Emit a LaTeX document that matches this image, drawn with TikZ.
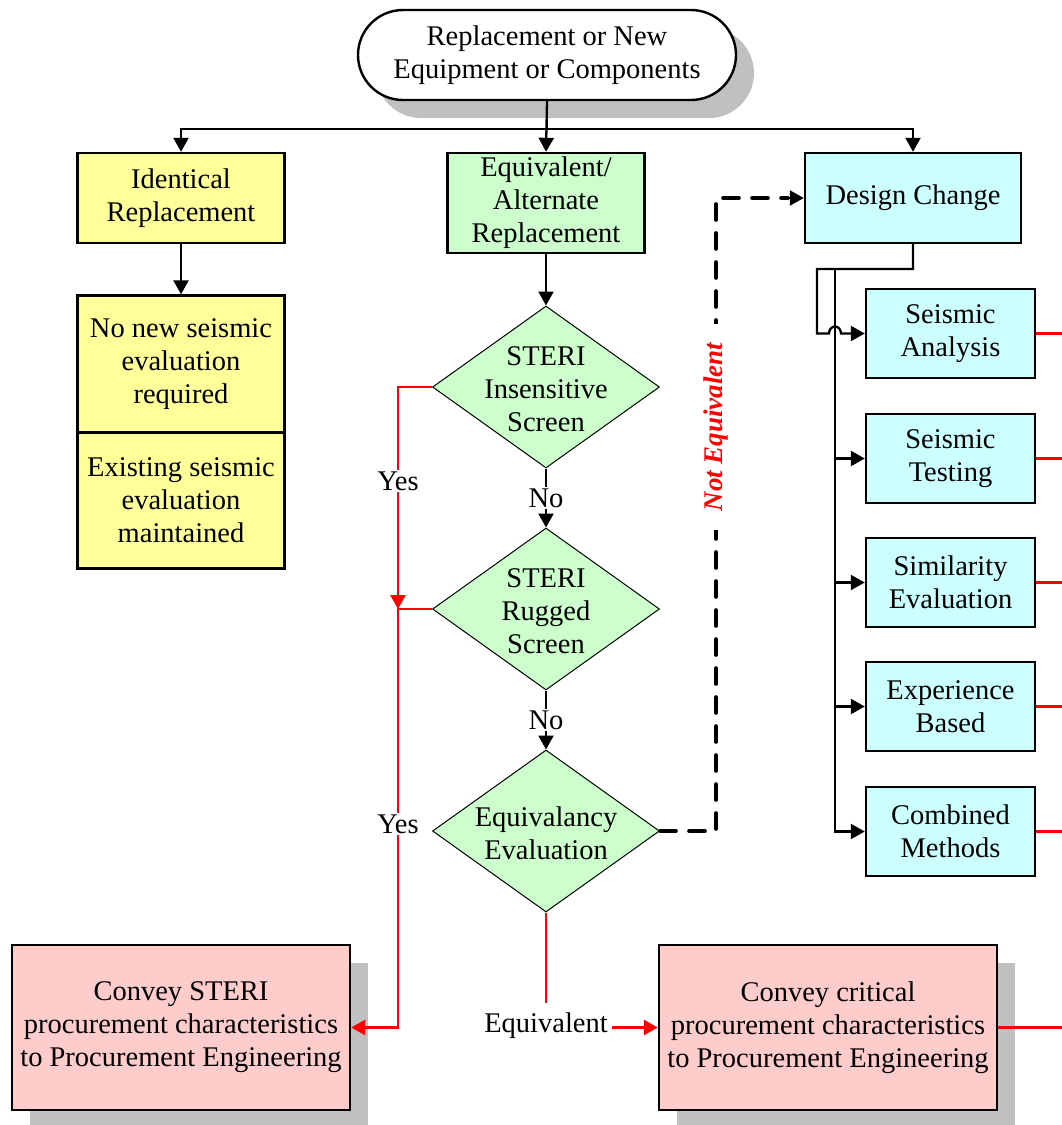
\documentclass[tikz,border=0pt]{standalone}
\usepackage{fontspec}
\setmainfont{Liberation Serif}
\usetikzlibrary{arrows.meta,shapes.geometric,shadows}

\definecolor{boxyellow}{RGB}{255,255,153}
\definecolor{boxgreen}{RGB}{204,255,204}
\definecolor{boxcyan}{RGB}{204,255,255}
\definecolor{boxpink}{RGB}{255,204,204}
\definecolor{shadowgray}{RGB}{192,192,192}
\definecolor{flowred}{RGB}{255,0,0}

\begin{document}
\begin{tikzpicture}[x=1pt,y=-1pt,
  every node/.style={font=\fontsize{28.5}{33}\selectfont, align=center},
  box/.style={draw, line width=2.4pt, inner sep=0pt},
  ybox/.style={box, fill=boxyellow, minimum width=207pt},
  gbox/.style={box, fill=boxgreen, minimum width=197pt, minimum height=100pt},
  cbox/.style={box, fill=boxcyan, minimum width=169pt, minimum height=89pt},
  pbox/.style={box, fill=boxpink, minimum width=338pt, minimum height=165pt,
    drop shadow={shadow xshift=18pt, shadow yshift=-18pt, fill=shadowgray, opacity=1}},
  dia/.style={diamond, draw, line width=1pt, fill=boxgreen, inner sep=0pt,
    minimum width=227pt, minimum height=162pt},
  tip/.style={-{Triangle[length=14pt,width=15pt]}},
  conn/.style={line width=2.3pt, black},
  rconn/.style={line width=2.8pt, flowred},
  dconn/.style={line width=3.6pt, black, line cap=round, dash pattern=on 16pt off 13pt},
  gap/.style={fill=white, inner sep=2pt}
]
\useasboundingbox (0,0) rectangle (1062,1125);

% start terminal
\node[box, fill=white, rounded corners=45pt, minimum width=378pt, minimum height=90pt,
  drop shadow={shadow xshift=18pt, shadow yshift=-18pt, fill=shadowgray, opacity=1}]
  (start) at (547,55) {Replacement or New\\Equipment or Components};

% three branches
\node[ybox, minimum height=90pt] (id) at (181,198) {Identical\\Replacement};
\node[gbox] (eq) at (546,203) {Equivalent/\\Alternate\\Replacement};
\node[box, fill=boxcyan, minimum width=216pt, minimum height=90pt] (dc) at (913,198) {Design Change};

\draw[conn, tip] (start.south) -- (eq.north);
\draw[conn, tip] (start.south) -- ++(0,28) -| (id.north);
\draw[conn, tip] (start.south) -- ++(0,28) -| (dc.north);

% identical replacement result
\node[ybox, minimum height=137pt] (nb) at (181,364) {No new seismic\\evaluation\\required};
\node[ybox, minimum height=136pt] (ex) at (181,500.5) {Existing seismic\\evaluation\\maintained};
\draw[conn, tip] (id.south) -- (nb.north);

% screening diamonds
\node[dia] (d1) at (546,387) {};
\node at ([yshift=-2pt]d1) {STERI\\Insensitive\\Screen};
\node[dia] (d2) at (546,609) {};
\node at ([yshift=-2pt]d2) {STERI\\Rugged\\Screen};
\node[dia] (d3) at (546,831) {};
\node at ([yshift=-2pt]d3) {Equivalancy\\Evaluation};

\draw[conn, tip] (eq.south) -- (d1.north);
\draw[conn, tip] (d1.south) -- (d2.north) node[midway, gap] {No};
\draw[conn, tip] (d2.south) -- (d3.north) node[midway, gap] {No};

% procurement boxes
\node[pbox] (cs) at (181,1027.5) {Convey STERI\\procurement characteristics\\to Procurement Engineering};
\node[pbox] (cc) at (828,1027.5) {Convey critical\\procurement characteristics\\to Procurement Engineering};

% "Yes" paths
\coordinate (yj) at (398,609);
\draw[rconn, tip] (d1.west) -| (yj);
\node[gap] at (398,481) {Yes};
\draw[rconn, tip] (d2.west) -| (398,800) |- (cs.east);
\node[gap] at (398,824) {Yes};

% "Equivalent" path
\draw[rconn, tip] (d3.south) |- (cc.west);
\node[fill=white, inner xsep=4pt, inner ysep=10pt] at (546,1026) {Equivalent};

% "Not Equivalent" path
\draw[dconn] (d3.east) -| (716,500) |- ([xshift=-16pt]dc.west);
\draw[conn, tip] ([xshift=-16pt]dc.west) -- (dc.west);
\node[fill=white, rotate=90, inner xsep=19pt, inner ysep=4pt, text=flowred,
  font=\fontsize{27}{30}\selectfont\bfseries\itshape] at (716,427) {Not Equivalent};

% design change methods
\node[cbox] (sa) at (950.5,333.5) {Seismic\\Analysis};
\node[cbox] (sb) at (950.5,458.5) {Seismic\\Testing};
\node[cbox] (se) at (950.5,582.5) {Similarity\\Evaluation};
\node[cbox] (xb) at (950.5,706.5) {Experience\\Based};
\node[cbox] (cm) at (950.5,831.5) {Combined\\Methods};

\coordinate (bus) at (835,269);
\draw[conn, tip] (dc.south) |- (817,269) |- (829,333.5)
  arc[start angle=180, end angle=0, x radius=6pt, y radius=7pt] -- (sa.west);
\draw[conn, tip] (bus) |- (cm.west);
\draw[conn, tip] (bus |- sb.west) -- (sb.west);
\draw[conn, tip] (bus |- se.west) -- (se.west);
\draw[conn, tip] (bus |- xb.west) -- (xb.west);

% continuations off the right edge
\coordinate (ra) at (1062,333.5);
\coordinate (rb) at (1062,458.5);
\coordinate (re) at (1062,582.5);
\coordinate (rx) at (1062,706.5);
\coordinate (rm) at (1062,831.5);
\coordinate (rc) at (1062,1027.5);
\draw[rconn] (sa.east) -- (ra);
\draw[rconn] (sb.east) -- (rb);
\draw[rconn] (se.east) -- (re);
\draw[rconn] (xb.east) -- (rx);
\draw[rconn] (cm.east) -- (rm);
\draw[rconn] (cc.east) -- (rc);
\end{tikzpicture}
\end{document}
